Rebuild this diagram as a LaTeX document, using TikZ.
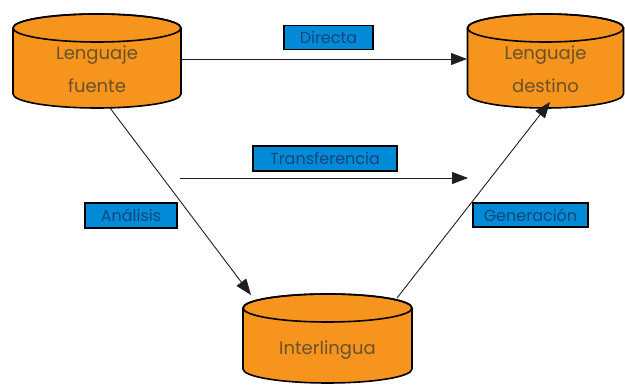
\documentclass[tikz,border=0pt]{standalone}
\usepackage{fontspec}
\setmainfont{Poppins}
\usetikzlibrary{arrows.meta}
\definecolor{cylorange}{RGB}{247,148,29}
\definecolor{cyltext}{RGB}{105,82,42}
\definecolor{lblblue}{RGB}{0,138,216}
\definecolor{lbltext}{RGB}{22,72,118}
\tikzset{
  cylbody/.style={fill=cylorange, draw=black, line width=1.6pt},
  cyllabel/.style={text=cyltext, align=center, font=\fontsize{18}{33}\selectfont},
  tag/.style={fill=lblblue, draw=black, line width=1.2pt, text=lbltext, inner sep=0pt, font=\fontsize{16}{18}\selectfont},
  conn/.style={draw={rgb,255:red,30;green,30;blue,30}, line width=0.9pt, -{Triangle[length=16pt,width=12pt]}}
}
\begin{document}
\begin{tikzpicture}[x=1pt,y=1pt]
\useasboundingbox (0,0) rectangle (625,385);
% Lenguaje fuente cylinder
\path[cylbody] (13,357) -- (13,291) arc[start angle=180,end angle=360,x radius=84,y radius=14] -- (181,357) arc[start angle=0,end angle=180,x radius=84,y radius=14] -- cycle;
\draw[line width=1.6pt] (97,357) ellipse[x radius=84,y radius=14];
\node[cyllabel] (fuente) at (97,316) {Lenguaje\\fuente};
% Lenguaje destino cylinder
\path[cylbody] (467.5,357) -- (467.5,291) arc[start angle=180,end angle=360,x radius=78,y radius=14] -- (623.5,357) arc[start angle=0,end angle=180,x radius=78,y radius=14] -- cycle;
\draw[line width=1.6pt] (545.5,357) ellipse[x radius=78,y radius=14];
\node[cyllabel] (destino) at (545.5,316) {Lenguaje\\destino};
% Interlingua cylinder
\path[cylbody] (243,77) -- (243,16) arc[start angle=180,end angle=360,x radius=84.5,y radius=14] -- (412,77) arc[start angle=0,end angle=180,x radius=84.5,y radius=14] -- cycle;
\draw[line width=1.6pt] (327.5,77) ellipse[x radius=84.5,y radius=14];
\node[cyllabel] (inter) at (327.5,35) {Interlingua};
% connector end points
\coordinate (fR) at (181,326);
\coordinate (dL) at (467,326);
\coordinate (tS) at (180,207);
\coordinate (tE) at (468,207);
\coordinate (fB) at (110,277);
\coordinate (iTL) at (251,90);
\coordinate (iTR) at (397,87);
\coordinate (dB) at (550,283);
% connectors
\draw[conn] (fR) -- (dL);
\draw[conn] (tS) -- (tE);
\draw[conn] (fB) -- (iTL);
\draw[conn] (iTR) -- (dB);
% labels
\node[tag, minimum width=89pt, minimum height=24pt] (ldir) at (328.5,347.5) {Directa};
\node[tag, minimum width=144pt, minimum height=25pt] (ltra) at (325,226.5) {Transferencia};
\node[tag, minimum width=92pt, minimum height=25pt] (lana) at (131,169.5) {Análisis};
\node[tag, minimum width=115pt, minimum height=24pt] (lgen) at (530.5,170) {Generación};
\end{tikzpicture}
\end{document}
